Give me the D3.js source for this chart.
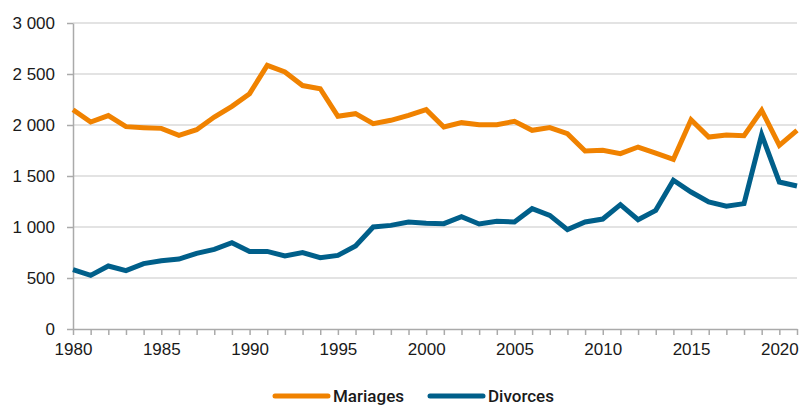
<!DOCTYPE html>
<html>
<head>
<meta charset="utf-8">
<script src="https://cdn.jsdelivr.net/npm/d3@7"></script>
<style>
    body { margin: 0; background: #fff; }
    svg { display: block; font-family: Roboto, "DejaVu Sans", sans-serif; }
    .grid line { stroke: #e3e3e3; stroke-width: 2; }
    .axis path, .axis line { stroke: #aaa; stroke-width: 1.5; }
    .axis text { fill: #1a1a1a; font-size: 17px; font-weight: 500; }
    .legend text { fill: #1a1a1a; font-size: 17px; font-weight: 500; }
</style>
</head>
<body>
<div id="content"></div>
<script>
const YEARS = d3.range(1980, 2022);
const MARIAGES = [2150, 2029, 2092, 1984, 1974, 1967, 1899, 1954, 2078, 2183,
    2307, 2585, 2520, 2387, 2356, 2085, 2111, 2013, 2046, 2095,
    2150, 1980, 2023, 2003, 2003, 2036, 1948, 1974, 1915, 1745,
    1752, 1719, 1784, 1725, 1663, 2052, 1882, 1902, 1895, 2144,
    1801, 1948];
const DIVORCES = [582, 526, 618, 572, 641, 670, 686, 742, 781, 846,
    761, 761, 716, 750, 699, 722, 814, 1000, 1016, 1049,
    1036, 1033, 1101, 1029, 1056, 1049, 1180, 1114, 974, 1049,
    1078, 1219, 1072, 1163, 1458, 1343, 1245, 1203, 1229, 1905,
    1441, 1402];
const Y_TICKS = [0, 500, 1000, 1500, 2000, 2500, 3000];
const X_TICKS = [1980, 1985, 1990, 1995, 2000, 2005, 2010, 2015, 2020];
const SERIES = [
    {name: 'Mariages', values: MARIAGES, color: '#f08200'},
    {name: 'Divorces', values: DIVORCES, color: '#005f8a'}
];

var width = 804;
var height = 407;
var margin = {left: 73, right: 7, top: 23, bottom: 78};

var svg = d3.select('#content')
.append('svg')
.attr('width', width)
.attr('height', height);

var xScale = d3.scaleLinear()
.domain([1980, 2021])
.range([margin.left, width - margin.right]);

var yScale = d3.scaleLinear()
.domain([0, 3000])
.range([height - margin.bottom, margin.top]);

var fmt = function (v) { return d3.format(',')(v).replace(/,/g, ' '); };

// gridlines
svg.append('g')
.attr('class', 'grid')
.selectAll('line')
.data(Y_TICKS.filter(function (t) { return t > 0; }))
.enter()
.append('line')
.attr('x1', margin.left)
.attr('x2', width - margin.right)
.attr('y1', function (t) { return yScale(t); })
.attr('y2', function (t) { return yScale(t); });

// y axis
var yAxis = d3.axisLeft(yScale)
.tickValues(Y_TICKS)
.tickFormat(fmt)
.tickSizeInner(6)
.tickSizeOuter(0)
.tickPadding(12);

svg.append('g')
.attr('class', 'axis y-axis')
.attr('transform', 'translate(' + margin.left + ', 0)')
.call(yAxis);

// x axis: tick every year, label every 5
var xAxis = d3.axisBottom(xScale)
.tickValues(YEARS)
.tickFormat(function (y) { return X_TICKS.indexOf(y) >= 0 ? y : ''; })
.tickSizeInner(6)
.tickSizeOuter(0)
.tickPadding(8);

svg.append('g')
.attr('class', 'axis x-axis')
.attr('transform', 'translate(0, ' + yScale(0) + ')')
.call(xAxis);

// lines
var line = d3.line()
.x(function (d, i) { return xScale(YEARS[i]); })
.y(function (d) { return yScale(d); });

svg.selectAll('.series')
.data(SERIES)
.enter()
.append('path')
.attr('class', 'series')
.attr('fill', 'none')
.attr('stroke', function (s) { return s.color; })
.attr('stroke-width', 5)
.attr('stroke-linejoin', 'miter')
.attr('d', function (s) { return line(s.values); });

// legend
var legendX = [273, 428];
var legend = svg.append('g')
.attr('class', 'legend')
.selectAll('g')
.data(SERIES)
.enter()
.append('g')
.attr('transform', function (s, i) { return 'translate(' + legendX[i] + ', 396)'; });

legend.append('line')
.attr('x1', 2)
.attr('x2', 55)
.attr('stroke', function (s) { return s.color; })
.attr('stroke-width', 5)
.attr('stroke-linecap', 'round');

legend.append('text')
.attr('x', 60)
.attr('dy', '0.35em')
.text(function (s) { return s.name; });
</script>
</body>
</html>
